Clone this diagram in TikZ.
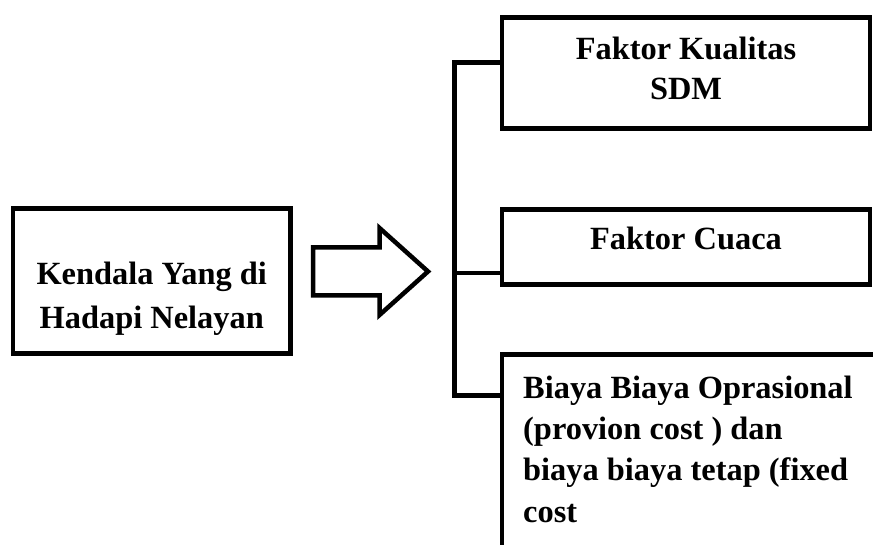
\documentclass[tikz,border=0pt]{standalone}
\usepackage{fontspec}
\setmainfont{Liberation Serif}
\begin{document}
\begin{tikzpicture}[x=1pt,y=-1pt,
  box/.style={draw=black, line width=4.5pt, rectangle, inner sep=0pt, fill=white},
  lbl/.style={font=\bfseries\fontsize{32.4}{41}\selectfont, inner sep=0pt, anchor=base},
  bracket/.style={draw=black, line width=4.5pt, line join=miter},
  bracketshadow/.style={draw=black!30, line width=4.5pt, line join=miter},
  bigarrow/.style={draw=black, line width=4.5pt, line join=miter, fill=white}]
\useasboundingbox (0,0) rectangle (873,545);
\clip (0,0) rectangle (873,545);
% boxes
\node[box, minimum width=277.5pt, minimum height=145pt] (src) at (151.75,281) {};
\node[box, minimum width=368pt, minimum height=111pt] (b1) at (686,73) {};
\node[box, minimum width=368pt, minimum height=75pt] (b2) at (686,247) {};
\node[box, minimum width=378pt, minimum height=205.5pt] (b3) at (691,457.25) {};
% texts (base anchor = baseline of the last line)
\node[lbl, align=center, font=\bfseries\fontsize{32.4}{44}\selectfont] (tsrc) at (151.75,329) {Kendala Yang di\\Hadapi Nelayan};
\node[lbl, align=center, font=\bfseries\fontsize{32.4}{40}\selectfont] (t1) at (686,100) {Faktor Kualitas\\SDM};
\node[lbl] (t2) at (686,250) {Faktor Cuaca};
\node[lbl, align=left, anchor=base west, font=\bfseries\fontsize{32.4}{41.3}\selectfont] (t3) at (523,522) {Biaya Biaya Oprasional\\(provion cost ) dan\\biaya biaya tetap (fixed\\cost};
% bracket
\coordinate (jt) at (454.5,62.5);
\coordinate (jm) at (454.5,273);
\coordinate (jb) at (454.5,395.5);
\begin{scope}[shift={(2.5,2.5)}]
\draw[bracketshadow] (b1.west |- jt) -- (jt) -- (jb) -- (b3.west |- jb);
\end{scope}
\draw[bracket] (b1.west |- jt) -- (jt) -- (jb) -- (b3.west |- jb);
\draw[bracket] (jm) -- (b2.west |- jm);
% block arrow
\coordinate (a0) at (313,247.5);
\draw[bigarrow] (a0) -- (379.5,247.5) -- (379.5,228) -- (428,271.5) -- (379.5,315) -- (379.5,295.5) -- (313,295.5) -- cycle;
\end{tikzpicture}
\end{document}
